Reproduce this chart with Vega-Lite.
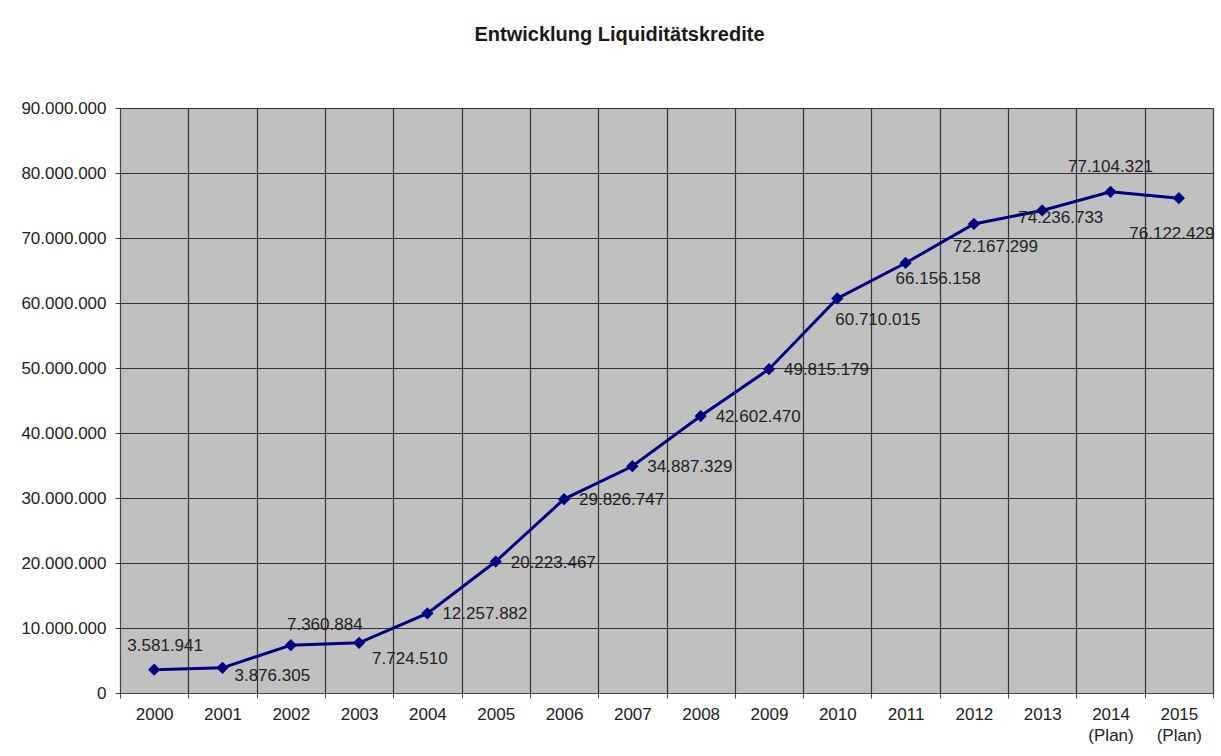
{
  "$schema": "https://vega.github.io/schema/vega-lite/v6.json",
  "width": 1093,
  "height": 585,
  "autosize": {"type": "none"},
  "padding": {"left": 120, "top": 108, "right": 8, "bottom": 63},
  "background": "white",
  "title": {
    "text": "Entwicklung Liquiditätskredite",
    "font": "Liberation Sans",
    "fontSize": 20,
    "fontWeight": "bold",
    "color": "#1a1a1a",
    "anchor": "middle",
    "dx": -47,
    "offset": 54
  },
  "config": {
    "locale": {
      "number": {"decimal": ",", "thousands": ".", "grouping": [3], "currency": ["", " €"]}
    },
    "view": {"fill": "#C0C0C0", "stroke": "#555555", "strokeWidth": 1},
    "text": {"font": "Liberation Sans", "fontSize": 17, "color": "#222222"}
  },
  "data": {
    "values": [
      {"year": "2000", "amount": 3581941},
      {"year": "2001", "amount": 3876305},
      {"year": "2002", "amount": 7360884},
      {"year": "2003", "amount": 7724510},
      {"year": "2004", "amount": 12257882},
      {"year": "2005", "amount": 20223467},
      {"year": "2006", "amount": 29826747},
      {"year": "2007", "amount": 34887329},
      {"year": "2008", "amount": 42602470},
      {"year": "2009", "amount": 49815179},
      {"year": "2010", "amount": 60710015},
      {"year": "2011", "amount": 66156158},
      {"year": "2012", "amount": 72167299},
      {"year": "2013", "amount": 74236733},
      {"year": "2014 (Plan)", "amount": 77104321},
      {"year": "2015 (Plan)", "amount": 76122429}
    ]
  },
  "encoding": {
    "x": {
      "field": "year",
      "type": "nominal",
      "sort": null,
      "scale": {"type": "band", "paddingInner": 0, "paddingOuter": 0},
      "axis": {
        "title": null,
        "labelAngle": 0,
        "labelFont": "Liberation Sans",
        "labelFontSize": 17,
        "labelColor": "#222222",
        "labelPadding": 8,
        "labelLineHeight": 21,
        "labelExpr": "split(datum.label, ' ')",
        "tickBand": "extent",
        "tickSize": 5,
        "tickColor": "#444444",
        "domainColor": "#444444",
        "grid": true,
        "gridColor": "#333333",
        "gridWidth": 1.2
      }
    },
    "y": {
      "field": "amount",
      "type": "quantitative",
      "scale": {"domain": [0, 90000000], "nice": false},
      "axis": {
        "title": null,
        "values": [0, 10000000, 20000000, 30000000, 40000000, 50000000, 60000000, 70000000, 80000000, 90000000],
        "format": ",d",
        "labelFont": "Liberation Sans",
        "labelFontSize": 17,
        "labelColor": "#222222",
        "labelPadding": 9,
        "tickSize": 5,
        "tickColor": "#444444",
        "domainColor": "#444444",
        "grid": true,
        "gridColor": "#333333",
        "gridWidth": 1.2
      }
    }
  },
  "layer": [
    {"mark": {"type": "line", "color": "#000080", "strokeWidth": 3}},
    {"mark": {"type": "point", "shape": "diamond", "filled": true, "color": "#000080", "size": 150, "opacity": 1}},
    {
      "transform": [{"filter": {"field": "year", "oneOf": ["2004", "2005", "2006", "2007", "2008", "2009"]}}],
      "mark": {"type": "text", "align": "left", "baseline": "middle", "dx": 15, "dy": 1},
      "encoding": {"text": {"field": "amount", "type": "quantitative", "format": ",d"}}
    },
    {
      "transform": [{"filter": {"field": "year", "equal": "2000"}}],
      "mark": {"type": "text", "align": "center", "baseline": "middle", "dx": 11, "dy": -24},
      "encoding": {"text": {"field": "amount", "type": "quantitative", "format": ",d"}}
    },
    {
      "transform": [{"filter": {"field": "year", "equal": "2001"}}],
      "mark": {"type": "text", "align": "left", "baseline": "middle", "dx": 12, "dy": 8},
      "encoding": {"text": {"field": "amount", "type": "quantitative", "format": ",d"}}
    },
    {
      "transform": [{"filter": {"field": "year", "equal": "2002"}}],
      "mark": {"type": "text", "align": "center", "baseline": "middle", "dx": 34, "dy": -20},
      "encoding": {"text": {"field": "amount", "type": "quantitative", "format": ",d"}}
    },
    {
      "transform": [{"filter": {"field": "year", "equal": "2003"}}],
      "mark": {"type": "text", "align": "left", "baseline": "middle", "dx": 13, "dy": 16},
      "encoding": {"text": {"field": "amount", "type": "quantitative", "format": ",d"}}
    },
    {
      "transform": [{"filter": {"field": "year", "equal": "2010"}}],
      "mark": {"type": "text", "align": "left", "baseline": "middle", "dx": -2, "dy": 22},
      "encoding": {"text": {"field": "amount", "type": "quantitative", "format": ",d"}}
    },
    {
      "transform": [{"filter": {"field": "year", "equal": "2011"}}],
      "mark": {"type": "text", "align": "left", "baseline": "middle", "dx": -10, "dy": 16},
      "encoding": {"text": {"field": "amount", "type": "quantitative", "format": ",d"}}
    },
    {
      "transform": [{"filter": {"field": "year", "equal": "2012"}}],
      "mark": {"type": "text", "align": "left", "baseline": "middle", "dx": -21, "dy": 23},
      "encoding": {"text": {"field": "amount", "type": "quantitative", "format": ",d"}}
    },
    {
      "transform": [{"filter": {"field": "year", "equal": "2013"}}],
      "mark": {"type": "text", "align": "left", "baseline": "middle", "dx": -24, "dy": 8},
      "encoding": {"text": {"field": "amount", "type": "quantitative", "format": ",d"}}
    },
    {
      "transform": [{"filter": {"field": "year", "equal": "2014 (Plan)"}}],
      "mark": {"type": "text", "align": "center", "baseline": "middle", "dx": 0, "dy": -25},
      "encoding": {"text": {"field": "amount", "type": "quantitative", "format": ",d"}}
    },
    {
      "transform": [{"filter": {"field": "year", "equal": "2015 (Plan)"}}],
      "mark": {"type": "text", "align": "center", "baseline": "middle", "dx": -7, "dy": 36},
      "encoding": {"text": {"field": "amount", "type": "quantitative", "format": ",d"}}
    }
  ]
}
